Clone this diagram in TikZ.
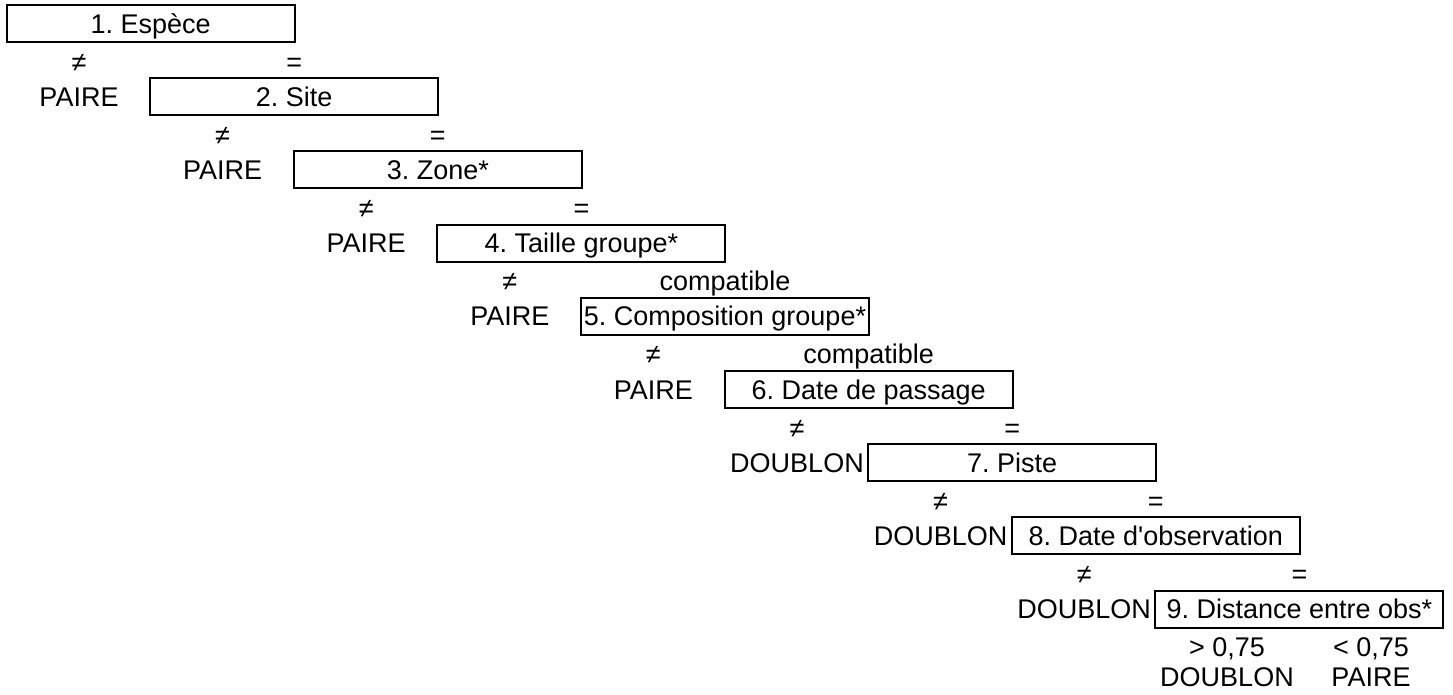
\documentclass[tikz,border=0pt]{standalone}
\usepackage{fontspec}
\newfontfamily\xlsfont{Liberation Sans}
\usetikzlibrary{positioning}
\frenchspacing

\begin{document}
\begin{tikzpicture}[x=0.5pt, y=-0.5pt,
  every node/.style={font=\xlsfont\fontsize{13.5}{15}\selectfont, inner sep=0pt, text height=9.6pt, text depth=0pt},
  crit/.style={draw, line width=1pt, minimum width=144pt, minimum height=18.5pt}]

\useasboundingbox (0,0) rectangle (1453,695);

% --- criteres successifs ---
\foreach \k/\txt in {1/1. Espèce, 2/2. Site, 3/3. Zone*, 4/4. Taille groupe*, 5/5. Composition groupe*,
  6/6. Date de passage, 7/7. Piste, 8/8. Date d'observation, 9/9. Distance entre obs*}{
  \node[crit] (crit\k) at ({150.6+143.6*(\k-1)},{23.5+73.2*(\k-1)}) {\txt};
}

% --- branches different / egal ---
\foreach \k/\eq/\res in {1/=/PAIRE, 2/=/PAIRE, 3/=/PAIRE, 4/compatible/PAIRE, 5/compatible/PAIRE,
  6/=/DOUBLON, 7/=/DOUBLON, 8/=/DOUBLON}{
  \node (ne\k)  at ({79+143.6*(\k-1)},{61.5+73.2*(\k-1)}) {≠};
  \node (eq\k)  at ({294.2+143.6*(\k-1)},{61.5+73.2*(\k-1)}) {\eq};
  \node (res\k) at ({79+143.6*(\k-1)},{96.7+73.2*(\k-1)}) {\res};
}

% --- seuil de distance ---
\node (gt)    at (1227,647) {> 0,75};
\node (lt)    at (1371,647) {< 0,75};
\node (resgt) at (1227,677) {DOUBLON};
\node (reslt) at (1371,677) {PAIRE};
\end{tikzpicture}
\end{document}
